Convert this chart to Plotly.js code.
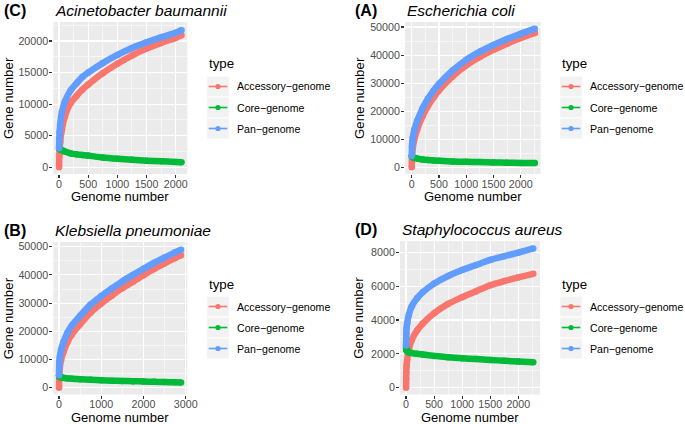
<!DOCTYPE html>
<html>
<head>
<meta charset="utf-8">
<script src="https://cdn.plot.ly/plotly-3.0.1.min.js"></script>
<style>html,body{margin:0;padding:0;background:#fff;}#chart{width:685px;height:424px;}</style>
</head>
<body>
<div id="chart"></div>
<script>
// ---------- data ----------
const seriesNames = ['Accessory\u2212genome', 'Core\u2212genome', 'Pan\u2212genome'];
const seriesColors = ['#F8766D', '#00BA38', '#619CFF'];

// (C) Acinetobacter baumannii
const cGenomes = [1, 5, 10, 20, 50, 100, 200, 300, 400, 500, 750, 1000, 1250, 1500, 1750, 2000, 2100];
const cAccessory = [0, 1800, 2800, 4000, 6000, 8000, 10200, 11300, 12300, 13100, 14900, 16400, 17700, 18800, 19700, 20500, 20900];
const cCore = [3000, 2950, 2900, 2850, 2700, 2500, 2200, 2050, 1950, 1850, 1550, 1350, 1200, 1050, 950, 850, 800];
const cPan = [3000, 4500, 5500, 6800, 8800, 10400, 12200, 13300, 14300, 15000, 16500, 17800, 18900, 19800, 20600, 21300, 21700];

// (A) Escherichia coli
const aGenomes = [1, 5, 10, 20, 50, 100, 200, 300, 400, 500, 750, 1000, 1250, 1500, 1750, 2000, 2260];
const aAccessory = [0, 3500, 5200, 6900, 10200, 13400, 18200, 21900, 24850, 27400, 32400, 36350, 39350, 41850, 44050, 46050, 47900];
const aCore = [4000, 3900, 3800, 3600, 3300, 3100, 2800, 2600, 2450, 2300, 2100, 1950, 1850, 1750, 1650, 1550, 1500];
const aPan = [4000, 7400, 9000, 10500, 13500, 16500, 21000, 24500, 27300, 29700, 34500, 38300, 41200, 43600, 45700, 47600, 49400];

// (B) Klebsiella pneumoniae
const bGenomes = [1, 5, 10, 20, 50, 100, 200, 300, 500, 750, 1000, 1250, 1500, 1750, 2000, 2250, 2500, 2750, 2890];
const bAccessory = [0, 4000, 5600, 7200, 9900, 12500, 16200, 18800, 22500, 26700, 29900, 32700, 35300, 37600, 39900, 42100, 44100, 46000, 47000];
const bCore = [4400, 4000, 3900, 3800, 3600, 3500, 3300, 3200, 3000, 2800, 2650, 2500, 2400, 2300, 2200, 2100, 2000, 1900, 1850];
const bPan = [4400, 8000, 9500, 11000, 13500, 16000, 19500, 22000, 25500, 29500, 32500, 35200, 37700, 40000, 42200, 44300, 46200, 48000, 48900];

// (D) Staphylococcus aureus
const dGenomes = [1, 3, 5, 10, 20, 50, 100, 200, 300, 500, 750, 1000, 1250, 1500, 1750, 2000, 2266];
const dAccessory = [0, 500, 900, 1300, 1650, 2250, 2800, 3400, 3800, 4400, 4950, 5350, 5700, 6050, 6300, 6520, 6730];
const dCore = [2500, 2300, 2250, 2200, 2150, 2080, 2050, 2000, 1960, 1880, 1800, 1740, 1690, 1640, 1590, 1550, 1500];
const dPan = [2500, 2900, 3200, 3500, 3800, 4300, 4800, 5300, 5650, 6150, 6600, 6950, 7250, 7550, 7770, 7980, 8230];

const panelTags = ['(C)', '(A)', '(B)', '(D)'];
const panelTitles = ['Acinetobacter baumannii', 'Escherichia coli', 'Klebsiella pneumoniae', 'Staphylococcus aureus'];
const xTitle = 'Genome number';
const yTitle = 'Gene number';
const legendTitle = 'type';

// ---------- layout helpers ----------
const W = 685, H = 424;
const FONT = 'Liberation Sans, Arial, Helvetica, sans-serif';
const px = v => v / W;
const py = v => 1 - v / H;

const panels = [
  {g: cGenomes, s: [cAccessory, cCore, cPan], box: [53.3, 22, 187.3, 174], xr: [-98, 2199], yr: [-1061, 23010], xd: 500, yd: 5000, tagX: 2, tagY: 11, leg: [207, 64], xtY: 197},
  {g: aGenomes, s: [aAccessory, aCore, aPan], box: [405, 22, 540.7, 174], xr: [-123, 2367], yr: [-2388, 51782], xd: 500, yd: 10000, tagX: 353, tagY: 11, leg: [560, 64], xtY: 197},
  {g: bGenomes, s: [bAccessory, bCore, bPan], box: [53.3, 242, 187.3, 394.5], xr: [-135, 3038], yr: [-2411, 51667], xd: 1000, yd: 10000, tagX: 2, tagY: 230, leg: [207, 284], xtY: 417},
  {g: dGenomes, s: [dAccessory, dCore, dPan], box: [400, 241, 540, 394.5], xr: [-107, 2386], yr: [-402, 8668], xd: 500, yd: 2000, tagX: 353, tagY: 229, leg: [560, 284], xtY: 417}
];

const traces = [];
const layout = {
  width: W, height: H,
  margin: {l: 0, r: 0, t: 0, b: 0},
  paper_bgcolor: '#FFFFFF',
  plot_bgcolor: '#EBEBEB',
  showlegend: false,
  font: {family: FONT, color: '#000000'},
  shapes: [],
  annotations: []
};

panels.forEach((p, i) => {
  const n = i === 0 ? '' : String(i + 1);
  const xa = 'x' + n, ya = 'y' + n;
  const [x0, y0, x1, y1] = p.box;
  const axCommon = {
    showgrid: true, gridcolor: '#FFFFFF', gridwidth: 1.1,
    zeroline: false, showline: false,
    ticks: 'outside', ticklen: 3, tickwidth: 1.1, tickcolor: '#333333',
    tickfont: {family: FONT, size: 10.7, color: '#4D4D4D'},
    tickformat: 'd',
    automargin: false, fixedrange: true, tick0: 0
  };
  layout['xaxis' + n] = Object.assign({}, axCommon, {
    domain: [px(x0), px(x1)], range: p.xr, anchor: ya, dtick: p.xd, ticklabelstandoff: -3,
    minor: {dtick: p.xd / 2, showgrid: true, gridcolor: '#FFFFFF', gridwidth: 0.55, ticks: ''}
  });
  layout['yaxis' + n] = Object.assign({}, axCommon, {
    domain: [py(y1), py(y0)], range: p.yr, anchor: xa, dtick: p.yd, ticklabelstandoff: -1,
    minor: {dtick: p.yd / 2, showgrid: true, gridcolor: '#FFFFFF', gridwidth: 0.55, ticks: ''}
  });

  p.s.forEach((vals, k) => {
    traces.push({
      type: 'scatter', mode: 'lines+markers',
      x: p.g, y: vals, xaxis: xa, yaxis: ya,
      name: seriesNames[k],
      line: {color: seriesColors[k], width: 6.5, shape: 'spline', smoothing: 0.7},
      marker: {color: seriesColors[k], size: 6.5},
      hoverinfo: 'skip'
    });
  });

  // tag and title
  layout.annotations.push({
    xref: 'paper', yref: 'paper', x: px(p.tagX), y: py(p.tagY), xanchor: 'left', yanchor: 'middle',
    text: '<b>' + panelTags[i] + '</b>', showarrow: false, font: {family: FONT, size: 16, color: '#000'}
  });
  layout.annotations.push({
    xref: 'paper', yref: 'paper', x: px(x0), y: py(p.tagY), xanchor: 'left', yanchor: 'middle',
    text: '<i>' + panelTitles[i] + '</i>', showarrow: false, font: {family: FONT, size: 15.5, color: '#000'}
  });
  // axis titles
  layout.annotations.push({
    xref: 'paper', yref: 'paper', x: px((x0 + x1) / 2), y: py(p.xtY), xanchor: 'center', yanchor: 'middle',
    text: xTitle, showarrow: false, font: {family: FONT, size: 13, color: '#000'}
  });
  layout.annotations.push({
    xref: 'paper', yref: 'paper', x: px(i % 2 === 0 ? 8 : 359), y: py((y0 + y1) / 2), xanchor: 'center', yanchor: 'middle',
    text: yTitle, textangle: -90, showarrow: false, font: {family: FONT, size: 13.3, color: '#000'}
  });

  // legend (ggplot style)
  const [lx, ly] = p.leg;
  layout.annotations.push({
    xref: 'paper', yref: 'paper', x: px(lx), y: py(ly), xanchor: 'left', yanchor: 'middle',
    text: legendTitle, showarrow: false, font: {family: FONT, size: 13.3, color: '#000'}
  });
  const keyTop = ly + 12, keyH = 21, keyL = lx - 0.3, keyR = lx + 22.3;
  seriesNames.forEach((nm, k) => {
    const kt = keyTop + k * keyH, kc = kt + keyH / 2, kx = (keyL + keyR) / 2;
    layout.shapes.push({type: 'rect', xref: 'paper', yref: 'paper', x0: px(keyL), x1: px(keyR), y0: py(kt + keyH), y1: py(kt),
      fillcolor: '#F2F2F2', line: {color: '#FFFFFF', width: 1}, layer: 'below'});
    layout.shapes.push({type: 'line', xref: 'paper', yref: 'paper', x0: px(keyL + 2), x1: px(keyR - 2), y0: py(kc), y1: py(kc),
      line: {color: seriesColors[k], width: 1.6}});
    layout.shapes.push({type: 'circle', xref: 'paper', yref: 'paper', x0: px(kx - 2.6), x1: px(kx + 2.6), y0: py(kc + 2.6), y1: py(kc - 2.6),
      fillcolor: seriesColors[k], line: {color: seriesColors[k], width: 0}});
    layout.annotations.push({
      xref: 'paper', yref: 'paper', x: px(lx + 28), y: py(kc), xanchor: 'left', yanchor: 'middle',
      text: nm, showarrow: false, font: {family: FONT, size: 10.6, color: '#000'}
    });
  });
});

Plotly.newPlot('chart', traces, layout, {displayModeBar: false, staticPlot: true});
</script>
</body>
</html>
